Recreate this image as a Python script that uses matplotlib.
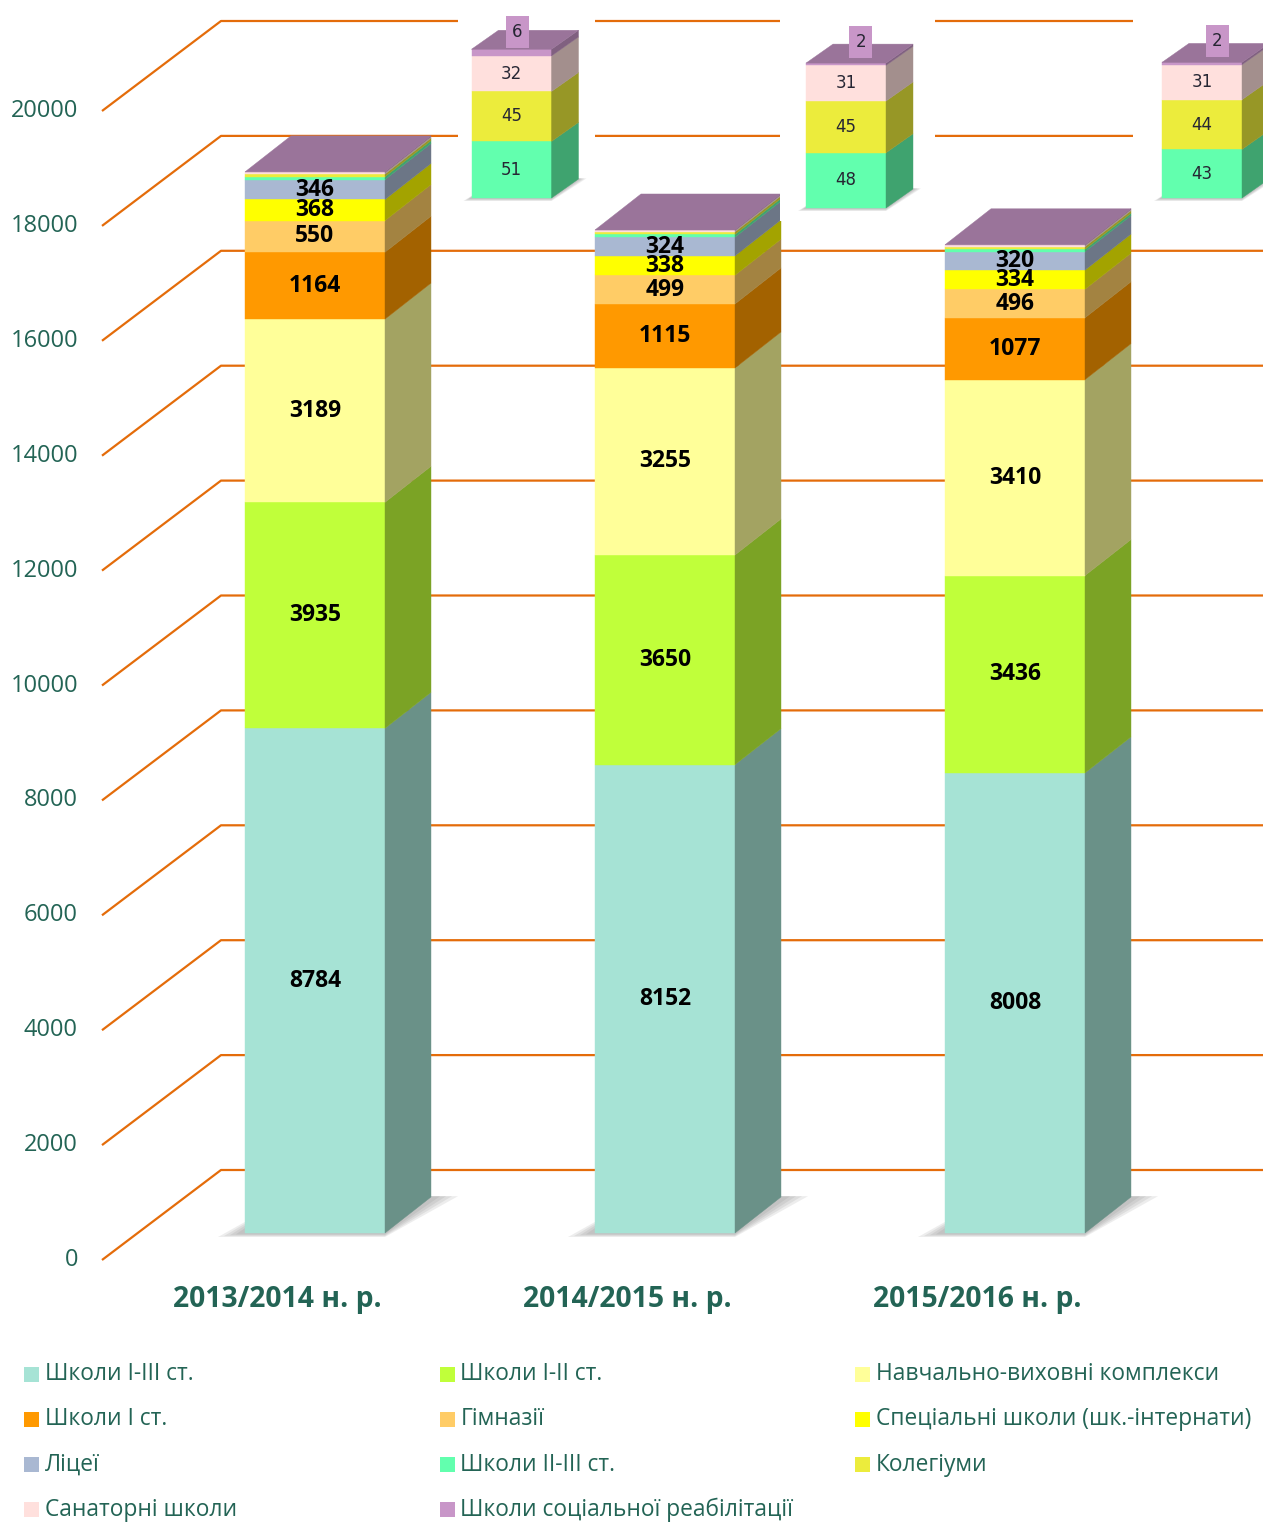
import numpy as np
import matplotlib.pyplot as plt
from matplotlib.patches import Polygon, Rectangle
from matplotlib.colors import to_rgb

plt.rcParams['font.family'] = ['Open Sans', 'DejaVu Sans']

years = ['2013/2014 н. р.', '2014/2015 н. р.', '2015/2016 н. р.']
names = ['Школи I-III ст.', 'Школи I-II ст.', 'Навчально-виховні комплекси',
         'Школи I ст.', 'Гімназії', 'Спеціальні школи (шк.-інтернати)',
         'Ліцеї', 'Школи II-III ст.', 'Колегіуми', 'Санаторні школи',
         'Школи соціальної реабілітації']
schools_1_3 = [8784, 8152, 8008]
schools_1_2 = [3935, 3650, 3436]
complexes = [3189, 3255, 3410]
schools_1 = [1164, 1115, 1077]
gymnasiums = [550, 499, 496]
special = [368, 338, 334]
lyceums = [346, 324, 320]
schools_2_3 = [51, 48, 43]
collegiums = [45, 45, 44]
sanatorium = [32, 31, 31]
rehab = [6, 2, 2]
yticks = list(range(0, 20001, 2000))

series = [schools_1_3, schools_1_2, complexes, schools_1, gymnasiums, special,
          lyceums, schools_2_3, collegiums, sanatorium, rehab]
colors = ['#A6E3D5', '#C0FF3A', '#FFFF99', '#FF9900', '#FFCC66', '#FFFF00',
          '#A9B8D2', '#62FFAE', '#ECEC3C', '#FFE0DD', '#C896C8']
n_big = 7          # series labelled in the main bars
txt_col = '#236455'

# ---- geometry (pixels) ----
W, H = 1263, 1522
PX = 0.05745       # pixels per unit on main scale
BASE = 1233        # pixel row of value 0 on bar front
X0, STEP = 315, 350
BW = 140 / STEP
DX = 46 / STEP
DY = 36 / PX


def vx(px):
    return (px - X0) / STEP


def vy(py):
    return (BASE - py) / PX


def dark(c, f):
    return tuple(np.array(to_rgb(c)) * f)


def draw_stack(ax, xc, w, vals, cols, dx, dy, z=3):
    bottom = 0
    xl, xr = xc - w / 2, xc + w / 2
    for v, c in zip(vals, cols):
        ax.bar(xc, v, w, bottom=bottom, color=c, edgecolor=c, lw=0.3, zorder=z)
        ax.add_patch(Polygon([(xr, bottom), (xr + dx, bottom + dy),
                              (xr + dx, bottom + v + dy), (xr, bottom + v)],
                             closed=True, fc=dark(c, 0.64), ec=dark(c, 0.64),
                             lw=0.3, zorder=z))
        bottom += v
    ax.add_patch(Polygon([(xl, bottom), (xr, bottom), (xr + dx, bottom + dy),
                          (xl + dx, bottom + dy)], closed=True,
                         fc=dark(cols[-1], 0.77), ec=dark(cols[-1], 0.77),
                         lw=0.3, zorder=z))
    return bottom


def draw_shadow(ax, xc, w, dx, dy, sx, sy, z=2):
    xl, xr = xc - w / 2, xc + w / 2
    for k in range(4):
        s = 1 - k * 0.22
        ax.add_patch(Polygon([(xl - sx * s, -sy * s), (xr, -sy * s),
                              (xr + dx + sx * s, dy + sy * 0.2),
                              (xl + dx, dy + sy * 0.2)],
                             closed=True, fc='#707070', ec='none',
                             alpha=0.12, zorder=z))


fig = plt.figure(figsize=(W / 100, H / 100), dpi=100)
ax = fig.add_axes([0, 0, 1, 1])
ax.set_xlim(vx(0), vx(W))
ax.set_ylim(vy(H), vy(0))
ax.axis('off')

# gridlines: floor diagonal + back wall
off_front = vy(1260)
off_back = vy(1170)
for v in yticks:
    ax.plot([vx(102), vx(221), vx(W)], [v + off_front, v + off_back, v + off_back],
            color='#E46C0A', lw=1.6, zorder=1, solid_capstyle='butt')
    ax.text(vx(78), v + vy(1260), str(v), ha='right', va='center',
            fontsize=17, color=txt_col)

# main bars
for i in range(len(years)):
    vals = [s[i] for s in series]
    draw_shadow(ax, i, BW, DX, DY, 27 / STEP, 4 / PX)
    draw_stack(ax, i, BW, vals, colors, DX, DY)
    bottom = 0
    for k, v in enumerate(vals[:n_big]):
        ax.text(i, bottom + v / 2, str(v), ha='center', va='center',
                fontsize=16.5, fontweight='bold', color='black', zorder=10)
        bottom += v
    ax.text(i - 38 / STEP, vy(1299), years[i], ha='center', va='center',
            fontsize=20.3, fontweight='bold', color=txt_col)

# insets with the small series: box px (x0, x1, y0, y1), bar centre, bar bottom,
# px per unit, label-box shift
insets = [(458, 595, 0, 215, 511.5, 198, 1.11, 5.5),
          (780, 935, 0, 221, 846, 208, 1.15, 15),
          (1133, W, 0, 215, 1202, 198, 1.13, 15)]
for i, (x0, x1, y0, y1, c, b, S, shift) in enumerate(insets):
    axi = fig.add_axes([x0 / W, 1 - y1 / H, (x1 - x0) / W, (y1 - y0) / H])
    axi.set_xlim(x0 - c, x1 - c)
    axi.set_ylim((b - y1) / S, (b - y0) / S)
    axi.set_facecolor('white')
    axi.set_xticks([])
    axi.set_yticks([])
    for sp in axi.spines.values():
        sp.set_visible(False)
    small = [s[i] for s in series[n_big:]]
    draw_shadow(axi, 0, 80, 27, 19 / S, 8, 3 / S)
    top = draw_stack(axi, 0, 80, small, colors[n_big:], 27, 19 / S)
    bottom = 0
    for v in small[:-1]:
        axi.text(0, bottom + v / 2, str(v), ha='center', va='center',
                 fontsize=12, family='DejaVu Sans', color='#262633', zorder=10)
        bottom += v
    bx, bh = 23, 32 / S
    gap = (1 if i == 0 else 5) / S
    axi.add_patch(Rectangle((shift - bx / 2, top + gap), bx, bh, fc='#C896C8',
                            ec='none', zorder=11))
    axi.text(shift, top + gap + bh / 2, str(small[-1]), ha='center', va='center',
             fontsize=12, family='DejaVu Sans', color='#262633', zorder=12)

# legend (row-major, 3 columns)
for k, (nm, col) in enumerate(zip(names, colors)):
    r, cidx = divmod(k, 3)
    px = 24 + 415.5 * cidx
    py = 1374 + 45.3 * r
    fig.patches.append(Rectangle((px / W, 1 - (py + 7.5) / H), 15 / W, 15 / H,
                                 transform=fig.transFigure, fc=col, ec='none'))
    fig.text((px + 21) / W, 1 - py / H, nm, ha='left', va='center',
             fontsize=16.4, color=txt_col)

fig.savefig('out.png', dpi=100, facecolor='white')
